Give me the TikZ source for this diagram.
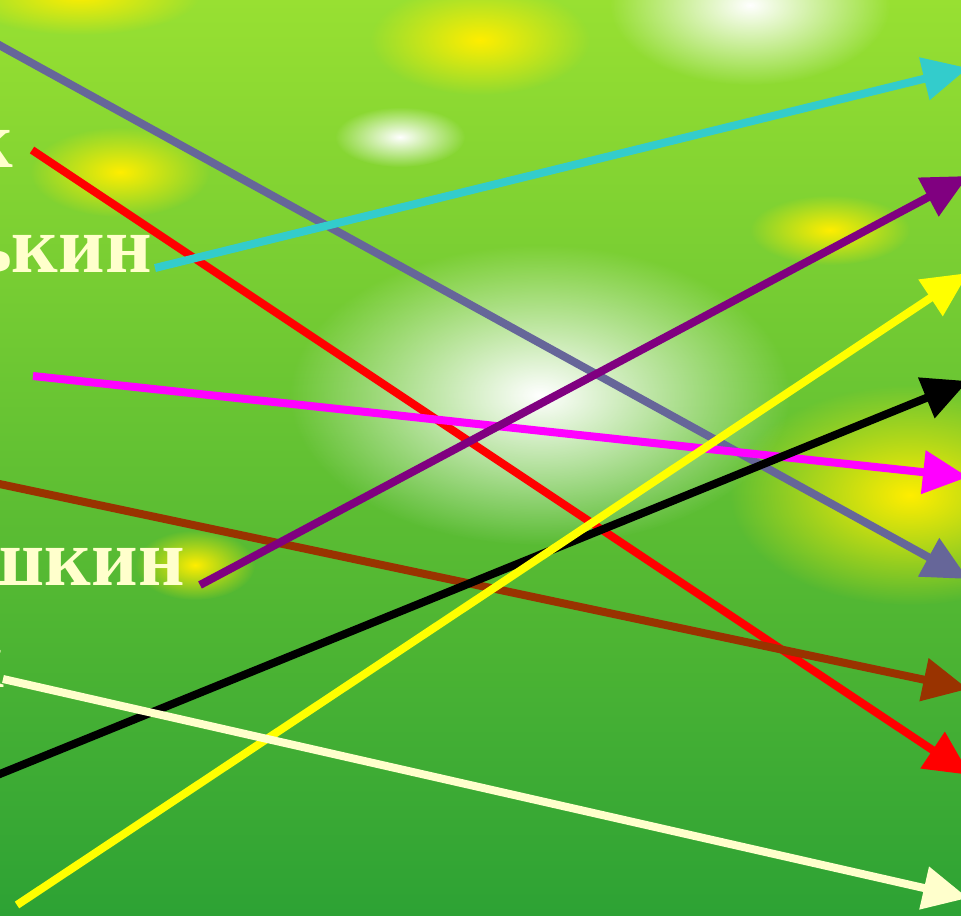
\documentclass[tikz,border=0pt]{standalone}
\usepackage{fontspec}
\setmainfont{Liberation Serif}
\usetikzlibrary{arrows.meta,fadings}
\tikzfading[name=glowfade, inner color=transparent!0, outer color=transparent!100]
\definecolor{cream}{HTML}{FFFFCC}
\definecolor{slate}{HTML}{666699}
\definecolor{aqua}{HTML}{33CCCC}
\definecolor{plum}{HTML}{800080}
\definecolor{rust}{HTML}{993300}
\definecolor{pink}{HTML}{FF00FF}
\definecolor{lemon}{HTML}{FFFF00}
\definecolor{scarlet}{HTML}{FF0000}
\definecolor{spot}{HTML}{FFEE00}
\definecolor{bgtop}{HTML}{98E032}
\definecolor{bgmid}{HTML}{78CC38}
\definecolor{bgbot}{HTML}{2DA234}
\begin{document}
\begin{tikzpicture}[x=0.02cm, y=-0.02cm, >={Triangle[length=0.9cm, width=0.84cm]},
  link/.style={->, line width=0.16cm},
  word/.style={font=\bfseries\fontsize{46}{46}\selectfont, text=cream, anchor=base east, inner sep=0pt},
  glow/.style={path fading=glowfade}]
\useasboundingbox (0,0) rectangle (961,916);
\clip (0,0) rectangle (961,916);
% background
\shade[top color=bgtop, middle color=bgmid, bottom color=bgbot] (0,0) rectangle (961,916);
\fill[spot, glow] (480,40) ellipse [x radius=2.2cm, y radius=1.1cm];
\fill[spot, glow] (80,-5) ellipse [x radius=2.4cm, y radius=0.8cm];
\fill[white, glow] (750,5) ellipse [x radius=2.8cm, y radius=1.6cm];
\fill[white, glow] (400,137) ellipse [x radius=1.3cm, y radius=0.6cm];
\fill[spot, glow] (120,172) ellipse [x radius=1.8cm, y radius=0.9cm];
\fill[spot, glow] (830,230) ellipse [x radius=1.6cm, y radius=0.7cm];
\fill[white, glow] (540,395) ellipse [x radius=5cm, y radius=3cm];
\fill[spot, glow] (910,495) ellipse [x radius=3.6cm, y radius=2.2cm];
\fill[spot, glow] (195,565) ellipse [x radius=1.2cm, y radius=0.7cm];
% words
\node[word] (w1) at (13,167) {к};
\node[word] (w2) at (152,272) {ькин};
\node[word] (w3) at (185,585) {шкин};
\node[word] (w4) at (4,687) {к};
% ends of the links
\coordinate (s1) at (-10,40);   \coordinate (e1) at (968,579);
\coordinate (s2) at (32,150);   \coordinate (e2) at (970,775);
\coordinate (s3) at (155,268);  \coordinate (e3) at (968,68);
\coordinate (s4) at (33,376);   \coordinate (e4) at (968,477);
\coordinate (s5) at (-10,482);  \coordinate (e5) at (968,689);
\coordinate (s6) at (200,585);  \coordinate (e6) at (968,176);
\coordinate (s7) at (-10,778);  \coordinate (e7) at (968,381);
\coordinate (s8) at (17,905);   \coordinate (e8) at (968,273);
\coordinate (s9) at (3,679);    \coordinate (e9) at (968,898);
\draw[link, slate] (s1) -- (e1);
\draw[link, scarlet] (s2) -- (e2);
\draw[link, aqua] (s3) -- (e3);
\draw[link, pink] (s4) -- (e4);
\draw[link, rust] (s5) -- (e5);
\draw[link, plum] (s6) -- (e6);
\draw[link, black] (s7) -- (e7);
\draw[link, lemon] (s8) -- (e8);
\draw[link, cream] (s9) -- (e9);
\end{tikzpicture}
\end{document}
